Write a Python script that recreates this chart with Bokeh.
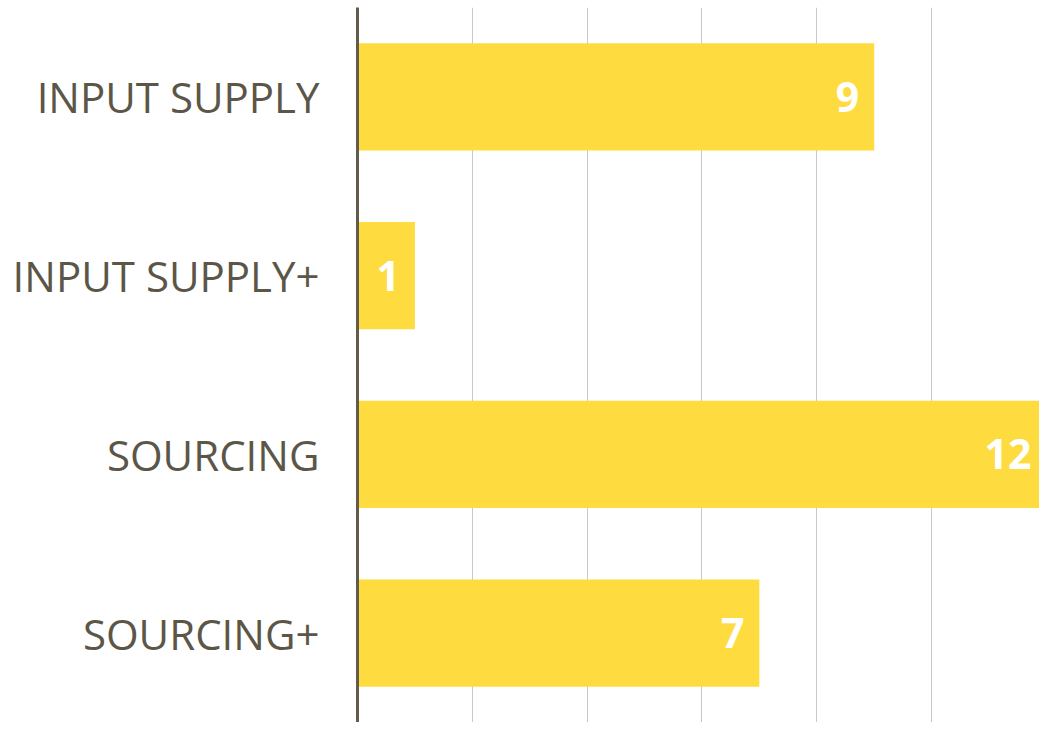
from bokeh.plotting import figure
from bokeh.models import ColumnDataSource, FactorRange, Range1d, FixedTicker
from bokeh.core.properties import value
from bokeh.embed import file_html
from bokeh.resources import INLINE

categories = ["INPUT SUPPLY", "INPUT SUPPLY+", "SOURCING", "SOURCING+"]
counts = [9, 1, 12, 7]
labels = [str(c) for c in counts]
grid_ticks = [2, 4, 6, 8, 10]

src = ColumnDataSource(dict(cat=categories, val=counts, lab=labels))

p = figure(width=1039, height=722, output_backend="svg", toolbar_location=None,
           y_range=FactorRange(*reversed(categories)), x_range=Range1d(0, 11.88),
           min_border_left=357, min_border_top=7, min_border_bottom=0, min_border_right=0)
p.outline_line_color = None
p.background_fill_color = "white"
p.border_fill_color = "white"

p.hbar(y="cat", right="val", left=0, height=0.6, source=src,
       fill_color="#FEDC40", line_color=None)

p.text(x="val", y="cat", text="lab", source=src, x_offset=-15,
       text_align="right", text_baseline="middle", text_color="white",
       text_font=value("Open Sans"), text_font_style="bold", text_font_size="41px")

p.xaxis.visible = False
p.xgrid.ticker = FixedTicker(ticks=grid_ticks)
p.xgrid.grid_line_color = "#c8c8c8"
p.xgrid.grid_line_width = 1
p.ygrid.grid_line_color = None

ax = p.yaxis[0]
ax.axis_line_color = "#625a4a"
ax.axis_line_width = 3
ax.major_tick_line_color = None
ax.minor_tick_line_color = None
ax.major_label_text_font = "Open Sans"
ax.major_label_text_font_size = "42px"
ax.major_label_text_color = "#5b5647"
ax.major_label_standoff = 32

open("out.html", "w").write(file_html(p, INLINE))
